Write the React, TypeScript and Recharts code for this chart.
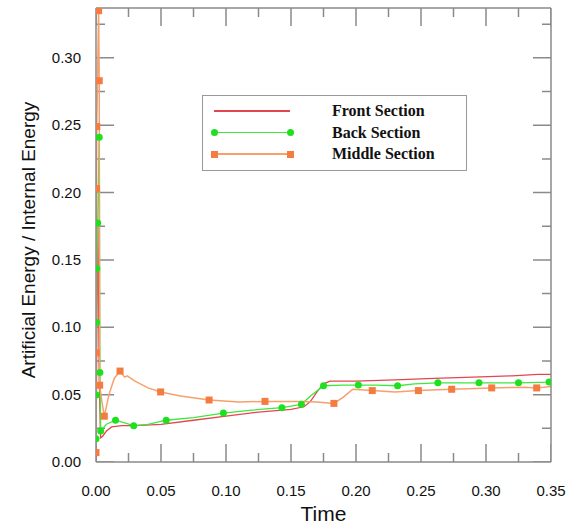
import React from "react";
import { ComposedChart, Line, XAxis, YAxis, Legend } from "recharts";

// Front section (red, no markers)
const frontTime = [0, 0.0008, 0.0015, 0.0025, 0.0035, 0.005, 0.008, 0.012, 0.02, 0.03, 0.05, 0.075, 0.1, 0.125, 0.15, 0.16, 0.165, 0.17, 0.175, 0.18, 0.2, 0.23, 0.26, 0.29, 0.32, 0.34, 0.35];
const frontValue = [0.0, 0.12, 0.175, 0.06, 0.018, 0.019, 0.023, 0.026, 0.027, 0.027, 0.028, 0.031, 0.034, 0.037, 0.039, 0.041, 0.045, 0.052, 0.058, 0.06, 0.06, 0.061, 0.062, 0.063, 0.064, 0.065, 0.065];

// Back section (green, circles)
const backTime = [0, 0.0002, 0.0004, 0.0006, 0.0013, 0.0025, 0.003, 0.0036, 0.008, 0.015, 0.022, 0.029, 0.04, 0.054, 0.075, 0.098, 0.12, 0.143, 0.158, 0.165, 0.175, 0.19, 0.2018, 0.215, 0.232, 0.245, 0.263, 0.2946, 0.325, 0.3485, 0.35];
const backValue = [0.0173, 0.0497, 0.1036, 0.1437, 0.1775, 0.241, 0.0665, 0.023, 0.028, 0.031, 0.029, 0.027, 0.028, 0.031, 0.033, 0.0363, 0.0385, 0.0403, 0.0428, 0.049, 0.0566, 0.057, 0.0571, 0.057, 0.0566, 0.058, 0.0588, 0.0588, 0.0588, 0.0593, 0.0594];
const backMarked = [1, 1, 1, 1, 1, 1, 1, 1, 0, 1, 0, 1, 0, 1, 0, 1, 0, 1, 1, 0, 1, 0, 1, 0, 1, 0, 1, 1, 1, 1, 0];

// Middle section (orange, squares)
const midTime = [0, 0.0002, 0.0004, 0.0006, 0.002, 0.0025, 0.0028, 0.0045, 0.0064, 0.01, 0.014, 0.0185, 0.022, 0.024, 0.03, 0.04, 0.0497, 0.065, 0.087, 0.11, 0.13, 0.158, 0.17, 0.183, 0.19, 0.1975, 0.2125, 0.23, 0.248, 0.2736, 0.3044, 0.33, 0.339, 0.35];
const midValue = [0.007, 0.081, 0.203, 0.249, 0.335, 0.283, 0.057, 0.045, 0.034, 0.05, 0.062, 0.0675, 0.063, 0.064, 0.06, 0.055, 0.052, 0.049, 0.046, 0.0445, 0.045, 0.045, 0.0445, 0.0435, 0.048, 0.054, 0.053, 0.052, 0.053, 0.054, 0.055, 0.0555, 0.055, 0.056];
const midMarked = [1, 1, 1, 1, 1, 1, 1, 0, 1, 0, 0, 1, 0, 0, 0, 0, 1, 0, 1, 0, 1, 0, 0, 1, 0, 0, 1, 0, 1, 1, 1, 0, 1, 0];

const xTicks = [0, 0.025, 0.05, 0.075, 0.1, 0.125, 0.15, 0.175, 0.2, 0.225, 0.25, 0.275, 0.3, 0.325, 0.35];
const yTicks = [0, 0.025, 0.05, 0.075, 0.1, 0.125, 0.15, 0.175, 0.2, 0.225, 0.25, 0.275, 0.3, 0.325];

const X_MAX = 0.35;
const Y_MAX = 0.337;

const frontData = frontTime.map((t, i) => ({ t, v: frontValue[i] }));
const backData = backTime.map((t, i) => ({ t, v: backValue[i], m: backMarked[i] }));
const midData = midTime.map((t, i) => ({ t, v: midValue[i], m: midMarked[i] }));

const RED = "#e2474f";
const GREEN = "#3ee83e";
const GREEN_DOT = "#1ee01e";
const ORANGE = "#f7a06c";
const ORANGE_DOT = "#f57c40";
const AXIS = "#8a8a8a";

const isMajor = (v: number) => Math.round(v * 1000) % 50 === 0;
const tickPx = (v: number) => (isMajor(v) ? 18 : 9);

// plot is 455 x 454 px; inward tick marks on all four sides, converted to data units
const xPerPx = X_MAX / 455;
const yPerPx = Y_MAX / 454;
const tickMarkData = [
  ...xTicks.flatMap((t) => [{ t, v: 0 }, { t, v: tickPx(t) * yPerPx }, { t, v: null }]),
  ...xTicks.flatMap((t) => [{ t, v: Y_MAX }, { t, v: Y_MAX - tickPx(t) * yPerPx }, { t, v: null }]),
  ...yTicks.flatMap((v) => [{ t: 0, v }, { t: tickPx(v) * xPerPx, v }, { t: tickPx(v) * xPerPx, v: null }]),
  ...yTicks.flatMap((v) => [{ t: X_MAX, v }, { t: X_MAX - tickPx(v) * xPerPx, v }, { t: X_MAX - tickPx(v) * xPerPx, v: null }]),
];

const bottomTick = ({ x, y, payload }: any) =>
  isMajor(payload.value) ? (
    <text x={x} y={y + 34} textAnchor="middle" fontSize={15} fill="#111">
      {payload.value.toFixed(2)}
    </text>
  ) : (
    <g />
  );

const leftTick = ({ x, y, payload }: any) =>
  isMajor(payload.value) ? (
    <text x={x - 15} y={y + 5} textAnchor="end" fontSize={15} fill="#111">
      {payload.value.toFixed(2)}
    </text>
  ) : (
    <g />
  );

const circleDot = (p: any) =>
  p.payload.m ? <circle key={p.index} cx={p.cx} cy={p.cy} r={3.5} fill={GREEN_DOT} /> : <g key={p.index} />;

const squareDot = (p: any) =>
  p.payload.m ? (
    <rect key={p.index} x={p.cx - 3.5} y={p.cy - 3.5} width={7} height={7} fill={ORANGE_DOT} />
  ) : (
    <g key={p.index} />
  );

const legendRows = [
  { name: "Front Section", color: RED, marker: "none" },
  { name: "Back Section", color: GREEN, marker: "circle" },
  { name: "Middle Section", color: ORANGE, marker: "square" },
];

const markerStyle = (kind: string, left: number): React.CSSProperties => ({
  position: "absolute",
  left: left - 3.5,
  top: 6.5,
  width: 7,
  height: 7,
  borderRadius: kind === "circle" ? "50%" : 0,
  background: kind === "circle" ? GREEN_DOT : ORANGE_DOT,
});

const LegendBox = () => (
  <div style={{ width: 263, height: 74, border: "1.5px solid #999", background: "#fff", position: "relative" }}>
    {legendRows.map((r, i) => (
      <div key={r.name} style={{ position: "absolute", left: 0, top: 5 + i * 21.5, height: 20, width: 263 }}>
        <div style={{ position: "absolute", left: 11, top: 9, width: 76, height: 1.5, background: r.color }} />
        {r.marker !== "none" && <div style={markerStyle(r.marker, 11)} />}
        {r.marker !== "none" && <div style={markerStyle(r.marker, 87)} />}
        <span
          style={{
            position: "absolute",
            left: 129,
            top: 0,
            lineHeight: "20px",
            fontFamily: "'Liberation Serif', 'Times New Roman', serif",
            fontWeight: "bold",
            fontSize: 16,
            color: "#111",
            whiteSpace: "nowrap",
          }}
        >
          {r.name}
        </span>
      </div>
    ))}
  </div>
);

export default function App() {
  return (
    <div style={{ position: "absolute", left: 0, top: 0, background: "#fff", fontFamily: "'Liberation Sans', Arial, sans-serif" }}>
      <ComposedChart width={577} height={525} margin={{ top: 7, right: 25, left: 36, bottom: 0 }}>
        <XAxis
          dataKey="t"
          type="number"
          domain={[0, X_MAX]}
          ticks={xTicks}
          allowDataOverflow
          height={63}
          stroke={AXIS}
          strokeWidth={1.5}
          tickSize={0}
          tickMargin={0}
          tick={bottomTick}
          interval={0}
          label={{ value: "Time", position: "center", dy: 20, fontSize: 21, fill: "#111" }}
        />
        <XAxis
          xAxisId="top"
          dataKey="t"
          type="number"
          orientation="top"
          domain={[0, X_MAX]}
          allowDataOverflow
          height={1}
          stroke={AXIS}
          strokeWidth={1.5}
          tick={false}
          tickLine={false}
        />
        <YAxis
          type="number"
          domain={[0, Y_MAX]}
          ticks={yTicks}
          allowDataOverflow
          width={60}
          stroke={AXIS}
          strokeWidth={1.5}
          tickSize={0}
          tickMargin={0}
          tick={leftTick}
          interval={0}
          label={{
            value: "Artificial Energy / Internal Energy",
            angle: -90,
            position: "center",
            dx: -38,
            dy: 5,
            fontSize: 19,
            fill: "#111",
          }}
        />
        <YAxis
          yAxisId="right"
          type="number"
          orientation="right"
          domain={[0, Y_MAX]}
          allowDataOverflow
          width={1}
          stroke={AXIS}
          strokeWidth={1.5}
          tick={false}
          tickLine={false}
        />
        <Legend
          layout="vertical"
          align="center"
          verticalAlign="middle"
          content={<LegendBox />}
          wrapperStyle={{ left: 202, top: 95, width: 266 }}
        />
        <Line data={tickMarkData} dataKey="v" stroke={AXIS} strokeWidth={1.5} dot={false} activeDot={false} connectNulls={false} legendType="none" isAnimationActive={false} />
        <Line data={frontData} dataKey="v" stroke={RED} strokeWidth={1.3} dot={false} isAnimationActive={false} />
        <Line data={backData} dataKey="v" stroke={GREEN} strokeWidth={1.3} dot={circleDot} isAnimationActive={false} />
        <Line data={midData} dataKey="v" stroke={ORANGE} strokeWidth={1.5} dot={squareDot} isAnimationActive={false} />
      </ComposedChart>
    </div>
  );
}
